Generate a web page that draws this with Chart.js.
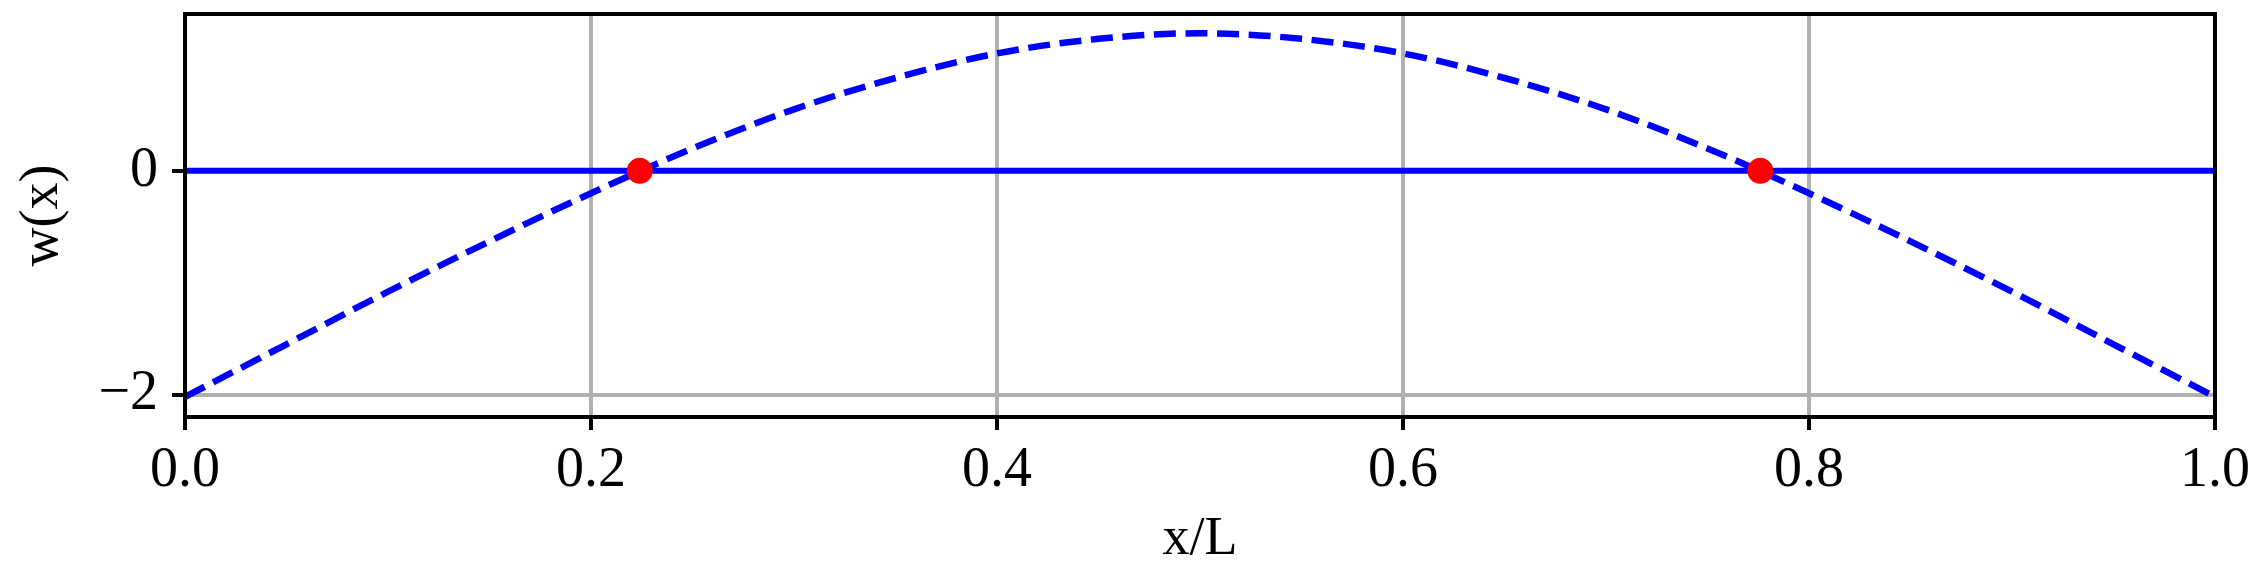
<!DOCTYPE html>
<html>
<head>
<meta charset="utf-8">
<script src="https://cdn.jsdelivr.net/npm/chart.js@4.4.1/dist/chart.umd.min.js"></script>
<style>
  html, body { margin: 0; padding: 0; background: #fff; }
  #wrap { width: 2267px; height: 582px; }
</style>
</head>
<body>
<div id="wrap"><canvas id="modeChart" width="2267" height="582"></canvas></div>
<script>
// mode shape
const xPos = [0.00, 0.05, 0.10, 0.15, 0.20, 0.25, 0.30, 0.35, 0.40, 0.45, 0.50,
              0.55, 0.60, 0.65, 0.70, 0.75, 0.80, 0.85, 0.90, 0.95, 1.00];
const wVals = [-2.02, -1.55, -1.08, -0.63, -0.20, 0.20, 0.55, 0.83, 1.05, 1.18, 1.23,
               1.18, 1.05, 0.83, 0.55, 0.20, -0.20, -0.63, -1.08, -1.55, -2.02];
const nodeX = [0.224, 0.776];
const nodeY = [0, 0];
const baseX = [0, 1];
const baseY = [0, 0];
const xTicks = [0, 0.2, 0.4, 0.6, 0.8, 1.0];
const yTicks = [-2, 0];

const FONT = "'Liberation Serif', 'DejaVu Serif', serif";

// matplotlib-style closed frame round the plot area
const frame = {
    id: 'frame',
    afterDatasetsDraw(chart) {
        const a = chart.chartArea, ctx = chart.ctx;
        ctx.save();
        ctx.strokeStyle = '#000';
        ctx.lineWidth = 4;
        ctx.strokeRect(a.left, a.top, a.right - a.left, a.bottom - a.top);
        ctx.restore();
    }
};

new Chart(document.getElementById('modeChart'), {
    type: 'scatter',
    data: {
        datasets: [
            {
                label: 'nodes',
                data: nodeX.map((x, i) => ({x: x, y: nodeY[i]})),
                backgroundColor: '#ff0000',
                borderColor: '#ff0000',
                pointRadius: 13,
                borderWidth: 0,
                showLine: false,
                order: 0
            },
            {
                label: 'baseline',
                data: baseX.map((x, i) => ({x: x, y: baseY[i]})),
                borderColor: '#0000ff',
                borderWidth: 6,
                pointRadius: 0,
                showLine: true,
                order: 1
            },
            {
                label: 'w(x)',
                data: xPos.map((x, i) => ({x: x, y: wVals[i]})),
                borderColor: '#0000ff',
                borderWidth: 6.5,
                borderDash: [22, 9.6],
                borderCapStyle: 'butt',
                pointRadius: 0,
                showLine: true,
                cubicInterpolationMode: 'monotone',
                order: 2
            }
        ]
    },
    options: {
        responsive: false,
        animation: false,
        layout: { padding: { top: 14, right: 52, left: 0, bottom: 0 } },
        plugins: { legend: { display: false }, tooltip: { enabled: false } },
        scales: {
            x: {
                type: 'linear',
                min: 0, max: 1,
                afterBuildTicks: s => { s.ticks = xTicks.map(v => ({value: v})); },
                afterFit: s => { s.height = 165; },
                grid: { color: '#b0b0b0', lineWidth: 4, tickColor: '#000', tickWidth: 4, tickLength: 13 },
                border: { color: '#000', width: 4 },
                ticks: {
                    color: '#000', padding: 8, maxRotation: 0,
                    font: { family: FONT, size: 56 },
                    callback: v => v.toFixed(1)
                },
                title: {
                    display: true, text: 'x/L', color: '#000',
                    font: { family: FONT, size: 54 },
                    padding: { top: 0, bottom: 10 }
                }
            },
            y: {
                type: 'linear',
                min: -2.2, max: 1.402,
                afterBuildTicks: s => { s.ticks = yTicks.map(v => ({value: v})); },
                afterFit: s => { s.width = 185; s.paddingTop = 0; s.paddingBottom = 0; },
                grid: { color: '#b0b0b0', lineWidth: 4, tickColor: '#000', tickWidth: 4, tickLength: 13 },
                border: { color: '#000', width: 4 },
                ticks: {
                    color: '#000', padding: 14,
                    font: { family: FONT, size: 56 },
                    callback: v => (v < 0 ? '\u2212' + Math.abs(v) : String(v))
                },
                title: {
                    display: true, text: 'w(x)', color: '#000',
                    font: { family: FONT, size: 54 },
                    padding: { top: 10, bottom: 0 }
                }
            }
        }
    },
    plugins: [frame]
});
</script>
</body>
</html>
